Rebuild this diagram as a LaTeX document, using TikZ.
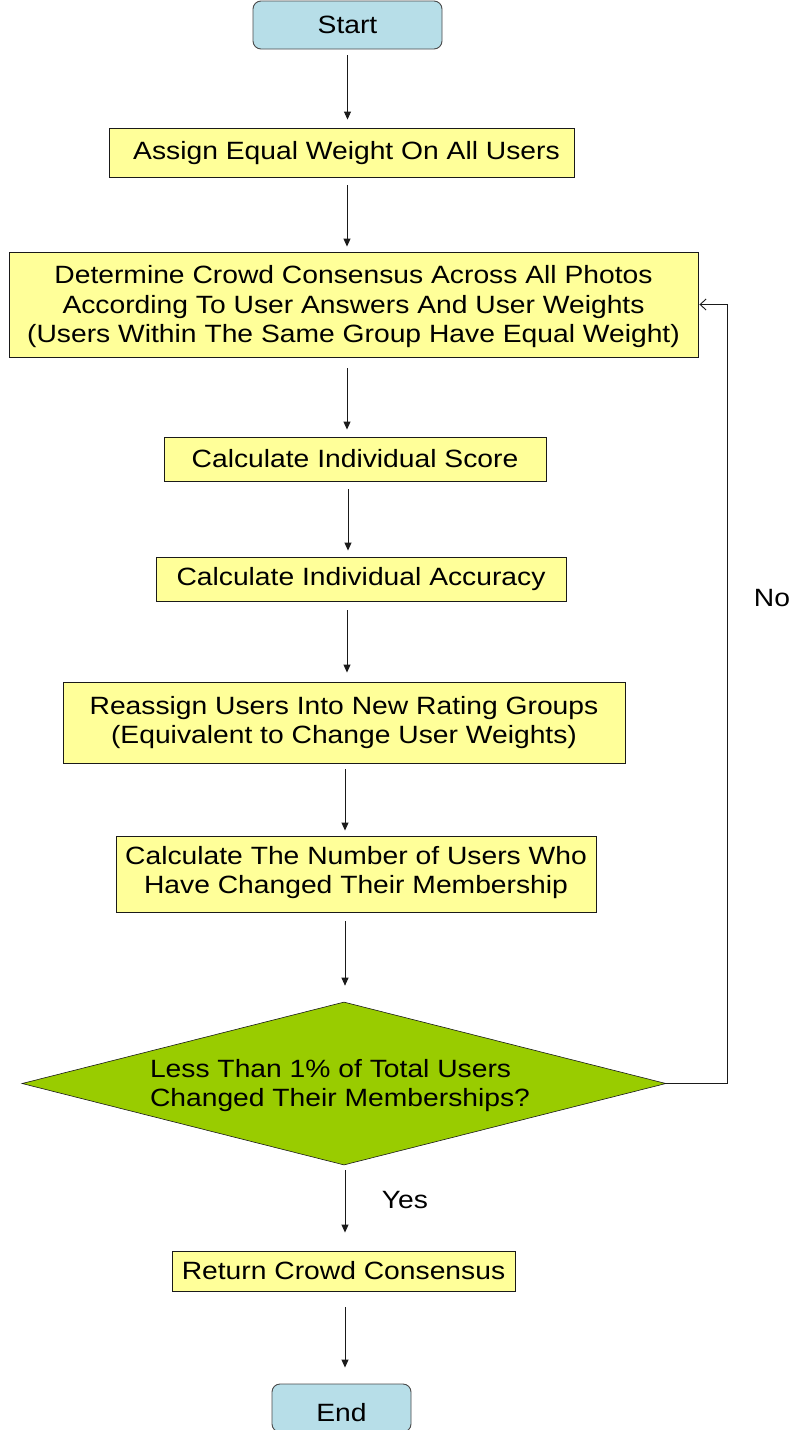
\documentclass[tikz,border=0pt]{standalone}
\usepackage{fontspec}
\setmainfont[FakeStretch=1.13]{Liberation Sans}
\usetikzlibrary{shapes.geometric,arrows.meta,calc}
\definecolor{boxyellow}{HTML}{FFFF99}
\definecolor{diagreen}{HTML}{99CC00}
\definecolor{termblue}{HTML}{B7DEE8}
\definecolor{termborder}{HTML}{4A4A4A}
\definecolor{lineblack}{HTML}{1A1A1A}
\newcommand{\lowr}[2]{\raisebox{-#1}[\height][\depth]{#2}}
\tikzset{
  txt/.style={font=\fontsize{25}{29.5}\selectfont, text=black},
  procbox/.style={txt, draw=lineblack, line width=0.9pt, fill=boxyellow, inner sep=0pt, align=center},
  termbox/.style={txt, draw=termborder, line width=0.9pt, fill=termblue, rounded corners=8pt, inner sep=0pt},
  decbox/.style={txt, diamond, draw=lineblack, line width=0.6pt, fill=diagreen, inner sep=0pt, align=left},
  arr/.style={draw=lineblack, line width=0.9pt, -{Triangle[length=8pt,width=7pt]}},
  looparr/.style={draw=lineblack, line width=0.9pt, -{Straight Barb[length=6pt,width=11pt,line width=0.9pt]}},
}
\begin{document}
\begin{tikzpicture}[x=1pt,y=-1pt]
\useasboundingbox (0,0) rectangle (792,1430);
\fill[white] (0,0) rectangle (792,1430);

\node[termbox, minimum width=189pt, minimum height=48pt] (start) at (347.5,25) {Start};
\node[procbox, minimum width=465pt, minimum height=49pt] (assign) at (341.5,152.5) {\hspace{10pt}\lowr{1pt}{Assign Equal Weight On All Users}};
\node[procbox, minimum width=689pt, minimum height=105pt] (determine) at (353.5,304.5) {\lowr{2.5pt}{Determine Crowd Consensus Across All Photos}\\\lowr{2.5pt}{According To User Answers And User Weights}\\\lowr{2.5pt}{(Users Within The Same Group Have Equal Weight)}};
\node[procbox, minimum width=382pt, minimum height=44pt] (score) at (355,459) {Calculate Individual Score};
\node[procbox, minimum width=410pt, minimum height=44pt] (accuracy) at (361,579) {Calculate Individual Accuracy};
\node[procbox, minimum width=562pt, minimum height=81pt] (reassign) at (344,722.5) {Reassign Users Into New Rating Groups\\(Equivalent to Change User Weights)};
\node[procbox, minimum width=480pt, minimum height=76pt] (calc) at (356,874) {\lowr{-1.5pt}{Calculate The Number of Users Who}\\\lowr{-1.5pt}{Have Changed Their Membership}};
\node[decbox, minimum width=644pt, minimum height=163pt, aspect=3.95] (dec) at (344,1083.5) {\lowr{2pt}{Less Than 1\% of Total Users}\\\lowr{2pt}{Changed Their Memberships?}\hspace*{8pt}};
\node[procbox, minimum width=343pt, minimum height=40pt] (ret) at (343.5,1271) {Return Crowd Consensus};
\node[termbox, minimum width=139pt, minimum height=48pt] (end) at (341.5,1408) {\lowr{5pt}{End}};

\node[txt] (yes) at (405,1200) {Yes};
\node[txt] (no) at (772,598) {No};

\draw[arr, shorten <=6pt, shorten >=8pt] ([xshift=0pt]start.south) -- ([xshift=0pt]start.south |- assign.north);
\draw[arr, shorten <=8pt, shorten >=5pt] ([xshift=5.5pt]assign.south) -- ([xshift=5.5pt]assign.south |- determine.north);
\draw[arr, shorten <=11pt, shorten >=7pt] ([xshift=-6.5pt]determine.south) -- ([xshift=-6.5pt]determine.south |- score.north);
\draw[arr, shorten <=8pt, shorten >=6pt] ([xshift=-7pt]score.south) -- ([xshift=-7pt]score.south |- accuracy.north);
\draw[arr, shorten <=9pt, shorten >=9pt] ([xshift=-14pt]accuracy.south) -- ([xshift=-14pt]accuracy.south |- reassign.north);
\draw[arr, shorten <=6pt, shorten >=5pt] ([xshift=1pt]reassign.south) -- ([xshift=1pt]reassign.south |- calc.north);
\draw[arr, shorten <=9pt, shorten >=16pt] ([xshift=-11pt]calc.south) -- ([xshift=-11pt]calc.south |- dec.north);
\draw[arr, shorten <=5pt, shorten >=18pt] ([xshift=1pt]dec.south) -- ([xshift=1pt]dec.south |- ret.north);
\draw[arr, shorten <=16pt, shorten >=16pt] ([xshift=1.5pt]ret.south) -- ([xshift=1.5pt]ret.south |- end.north);

\coordinate (loopx) at (727,1083.5);
\draw[looparr, shorten >=1pt] (dec.east) -- (loopx) |- (determine.east);
\end{tikzpicture}
\end{document}
